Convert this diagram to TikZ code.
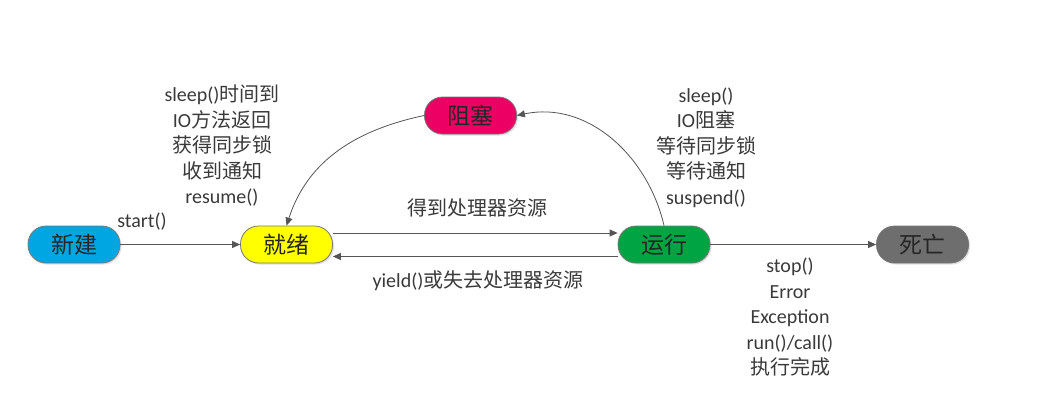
\documentclass[tikz,border=0pt]{standalone}
\usepackage{fontspec}
\setmainfont{Carlito}
\newfontfamily\cjk{Noto Sans CJK SC}
\usetikzlibrary{arrows.meta,shadows}
\definecolor{cblue}{HTML}{00A6E2}
\definecolor{cyellow}{HTML}{FFFF00}
\definecolor{cpink}{HTML}{EC0063}
\definecolor{cgreen}{HTML}{00A442}
\definecolor{cgray}{HTML}{6E6E6E}
\definecolor{cline}{HTML}{555555}
\definecolor{ctext}{HTML}{3A3A3A}
\tikzset{
  state/.style={draw=cline!80, line width=0.8pt, rounded corners=18pt,
    minimum width=92pt, minimum height=37pt, inner sep=0pt,
    font=\cjk\fontsize{23}{25}\selectfont, text=black!85,
    drop shadow={shadow xshift=1.5pt, shadow yshift=-1.5pt, opacity=0.25}},
  lbl/.style={align=center, text=ctext, font=\fontsize{20}{25.5}\selectfont, inner sep=0pt},
  conn/.style={draw=cline, line width=0.8pt, -{Triangle[length=8pt,width=7pt]}}
}
\begin{document}
\begin{tikzpicture}[x=1pt,y=-1pt]
\useasboundingbox[fill=white] (0,0) rectangle (1041,402);
\node[state, fill=cblue] (new) at (74,244.5) {新建};
\node[state, fill=cyellow] (ready) at (286.5,244.5) {就绪};
\node[state, fill=cpink] (block) at (470.5,115.5) {阻塞};
\node[state, fill=cgreen] (run) at (664,244.5) {运行};
\node[state, fill=cgray] (dead) at (922.5,244.5) {死亡};

\draw[conn] (new.east) -- (ready.west);
\draw[conn] (ready.east |- 0,233) coordinate (r1) -- (run.west |- 0,233);
\draw[conn] (run.west |- 0,256.5) -- (ready.east |- 0,256.5);
\draw[conn] (run.east) -- (dead.west);
\draw[conn] (run.north) to[out=103,in=12] (block.east);
\draw[conn] (block.west) to[out=192,in=72] (ready.north);

\node[lbl] (lstart) at (142,222) {start()};
\node[lbl] (lwake) at (222,146) {sleep(){\cjk 时间到}\\IO{\cjk 方法返回}\\{\cjk 获得同步锁}\\{\cjk 收到通知}\\resume()};
\node[lbl] (lblk) at (706,147.5) {sleep()\\IO{\cjk 阻塞}\\{\cjk 等待同步锁}\\{\cjk 等待通知}\\suspend()};
\node[lbl] (ldead) at (790,317.5) {stop()\\Error\\Exception\\run()/call()\\{\cjk 执行完成}};
\node[lbl] (lget) at (477,208) {\cjk 得到处理器资源};
\node[lbl] (lyield) at (478,281) {yield()\cjk 或失去处理器资源};
\end{tikzpicture}
\end{document}
